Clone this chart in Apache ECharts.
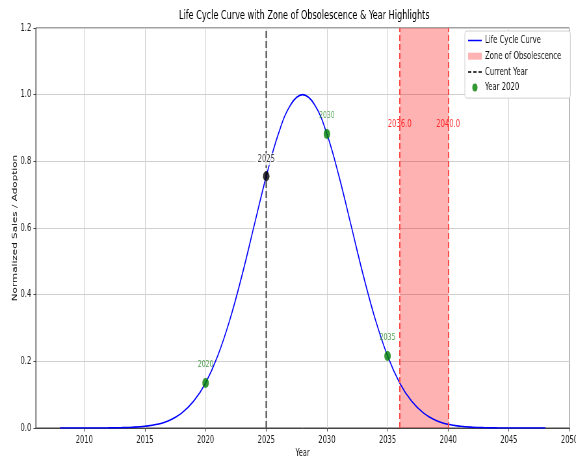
<!DOCTYPE html>
<html>
<head>
<meta charset="utf-8">
<script src="https://cdn.jsdelivr.net/npm/echarts@6/dist/echarts.min.js"></script>
<style>
  html, body { margin: 0; padding: 0; background: #fff; width: 576px; height: 457px; overflow: hidden; }
  /* the figure is laid out wide and squeezed horizontally to fit the frame */
  #chart { width: 886px; height: 457px; transform: scaleX(0.6501); transform-origin: 0 0; }
</style>
</head>
<body>
<div id="chart"></div>
<script>
// Normalized life-cycle curve, one value per year
const years = [2008, 2009, 2010, 2011, 2012, 2013, 2014, 2015, 2016, 2017,
               2018, 2019, 2020, 2021, 2022, 2023, 2024, 2025, 2026, 2027,
               2028, 2029, 2030, 2031, 2032, 2033, 2034, 2035, 2036, 2037,
               2038, 2039, 2040, 2041, 2042, 2043, 2044, 2045, 2046, 2047, 2048];
const adoption = [0.0000, 0.0000, 0.0000, 0.0001, 0.0003, 0.0009, 0.0022, 0.0051, 0.0111, 0.0228,
                  0.0439, 0.0796, 0.1353, 0.2163, 0.3247, 0.4578, 0.6065, 0.7548, 0.8825, 0.9692,
                  1.0000, 0.9692, 0.8825, 0.7548, 0.6065, 0.4578, 0.3247, 0.2163, 0.1353, 0.0796,
                  0.0439, 0.0228, 0.0111, 0.0051, 0.0022, 0.0009, 0.0003, 0.0001, 0.0000, 0.0000, 0.0000];

// Highlighted years on the curve
const highlightYears = [2020, 2025, 2030, 2035];
const highlightValues = [0.135, 0.755, 0.882, 0.216];

const currentYear = 2025;
const obsolescenceStart = 2036;
const obsolescenceEnd = 2040;
const zoneLabelLevel = 0.91;

const xTicks = [2010, 2015, 2020, 2025, 2030, 2035, 2040, 2045, 2050];
const xMin = 2006, xMax = 2050;
const yMin = 0, yMax = 1.2, yStep = 0.2;

const font = '"DejaVu Sans", sans-serif';

// legend glyphs: solid line, dashed line, filled patch
const lineIcon = 'path://M0,0H42V3H0Z';
const dashIcon = 'path://M0,0H10V3H0Z M16,0H26V3H16Z M32,0H42V3H32Z';
const patchIcon = 'path://M0,0H21V7H0Z';

const chart = echarts.init(document.getElementById('chart'), null, { renderer: 'canvas' });

const curveData = years.map((y, i) => [y, adoption[i]]);
const highlightData = highlightYears.map((y, i) => {
  const isCurrent = y === currentYear;
  return {
    value: [y, highlightValues[i]],
    itemStyle: { color: isCurrent ? '#000000' : '#008000' },
    label: isCurrent
      ? { color: '#111', fontSize: 10.4, backgroundColor: '#ffffff', padding: [1, 3], distance: 6 }
      : { color: '#2f8f2f' }
  };
});

chart.setOption({
  animation: false,
  backgroundColor: '#ffffff',
  title: {
    text: 'Life Cycle Curve with Zone of Obsolescence & Year Highlights',
    left: 463, top: 4, textAlign: 'center',
    textStyle: { fontFamily: font, fontSize: 12.5, fontWeight: 'normal', color: '#000' }
  },
  legend: {
    orient: 'vertical',
    left: 715, top: 31,
    padding: [4, 14, 5, 5],
    itemGap: 4.7,
    itemWidth: 21, itemHeight: 8,
    backgroundColor: '#ffffff',
    borderColor: '#d0d0d0', borderWidth: 1, borderRadius: 3,
    textStyle: { fontFamily: font, fontSize: 10.6, color: '#111', lineHeight: 11 },
    data: [
      { name: 'Life Cycle Curve', icon: lineIcon, itemStyle: { color: '#0000ff' } },
      { name: 'Zone of Obsolescence', icon: patchIcon, itemStyle: { color: '#ffb3b3' } },
      { name: 'Current Year', icon: dashIcon, itemStyle: { color: '#000000' } },
      { name: 'Year 2020', icon: 'circle', itemStyle: { color: '#008000' } }
    ]
  },
  grid: {
    left: 55, right: 10, top: 28, bottom: 29,
    outerBoundsMode: 'none',
    show: true, borderColor: '#444', borderWidth: 1
  },
  xAxis: {
    type: 'value', min: xMin, max: xMax,
    name: 'Year', nameLocation: 'middle', nameGap: 20, nameMoveOverlap: false,
    nameTextStyle: { fontFamily: font, fontSize: 10.4, color: '#111' },
    axisLine: { show: true, lineStyle: { color: '#444', width: 1 } },
    axisTick: { show: true, length: 3.5, customValues: xTicks, lineStyle: { color: '#444' } },
    axisLabel: { customValues: xTicks, fontFamily: font, fontSize: 10.4, color: '#222', margin: 7,
                 formatter: v => String(v) },
    splitLine: { show: true, lineStyle: { color: '#d0d0d0', width: 1 } }
  },
  yAxis: {
    type: 'value', min: yMin, max: yMax, interval: yStep,
    name: 'Normalized Sales / Adoption', nameLocation: 'middle', nameGap: 27, nameMoveOverlap: false,
    nameTextStyle: { fontFamily: font, fontSize: 10.4, color: '#111' },
    axisLine: { show: true, lineStyle: { color: '#444', width: 1 } },
    axisTick: { show: true, length: 3.5, lineStyle: { color: '#444' } },
    axisLabel: { fontFamily: font, fontSize: 10.4, color: '#222', margin: 7,
                 formatter: v => v.toFixed(1) },
    splitLine: { show: true, lineStyle: { color: '#d0d0d0', width: 1 } }
  },
  series: [
    {
      name: 'Zone of Obsolescence',
      type: 'line', data: [], silent: true,
      markArea: {
        silent: true,
        itemStyle: { color: 'rgba(255,0,0,0.3)' },
        data: [[{ xAxis: obsolescenceStart }, { xAxis: obsolescenceEnd }]]
      },
      markLine: {
        silent: true, symbol: 'none', label: { show: false },
        lineStyle: { color: '#ff4a4a', type: [6, 3], width: 2 },
        data: [{ xAxis: obsolescenceStart }, { xAxis: obsolescenceEnd }]
      }
    },
    {
      name: 'Zone Labels',
      type: 'scatter', silent: true,
      symbolSize: 0,
      itemStyle: { color: 'transparent' },
      data: [[obsolescenceStart, zoneLabelLevel], [obsolescenceEnd, zoneLabelLevel]],
      label: {
        show: true, position: 'inside',
        fontFamily: font, fontSize: 10.5, color: '#ff0000',
        formatter: p => p.value[0].toFixed(1)
      },
      z: 4
    },
    {
      name: 'Current Year',
      type: 'line', symbol: 'none', silent: true,
      data: [[currentYear, yMin], [currentYear, yMax]],
      lineStyle: { color: '#505050', type: [7, 3], width: 2.2 },
      z: 2
    },
    {
      name: 'Life Cycle Curve',
      type: 'line', symbol: 'none', smooth: 0.4, silent: true,
      data: curveData,
      lineStyle: { color: '#0000ff', width: 1.6 },
      itemStyle: { color: '#0000ff' },
      z: 3
    },
    {
      name: 'Year 2020',
      type: 'scatter', silent: true,
      symbol: 'circle', symbolSize: 10,
      data: highlightData,
      label: {
        show: true, position: 'top', distance: 8,
        fontFamily: font, fontSize: 9.5,
        formatter: p => String(p.value[0])
      },
      z: 5
    }
  ]
});
</script>
</body>
</html>
